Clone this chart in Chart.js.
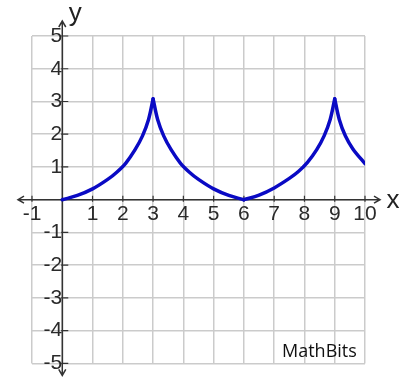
<!DOCTYPE html>
<html>
<head>
<script src="https://cdn.jsdelivr.net/npm/chart.js@4.4.0/dist/chart.umd.min.js"></script>
<style>
  body { margin: 0; background: #fff; }
  #wrap { width: 404px; height: 381px; }
</style>
</head>
<body>
<div id="wrap"><canvas id="graph" width="404" height="381"></canvas></div>
<script>
// curve, split at the cusps so each arc keeps its own slope
const arc1X = [0, 0.5, 1, 1.5, 1.8, 2.1, 2.4, 2.65, 2.85, 3];
const arc1Y = [0, 0.13, 0.33, 0.62, 0.84, 1.12, 1.52, 1.95, 2.45, 3.08];
const arc2X = [3, 3.15, 3.35, 3.6, 3.9, 4.2, 4.5, 5, 5.5, 6];
const arc2Y = [3.08, 2.45, 1.95, 1.52, 1.12, 0.84, 0.62, 0.33, 0.13, 0];
const arc3X = [6, 6.5, 7, 7.5, 7.8, 8.1, 8.4, 8.65, 8.85, 9];
const arc3Y = [0, 0.14, 0.36, 0.65, 0.86, 1.14, 1.52, 1.95, 2.45, 3.08];
const arc4X = [9, 9.15, 9.35, 9.6, 10];
const arc4Y = [3.08, 2.45, 1.95, 1.55, 1.1];

const xMin = -1, xMax = 10;
const yMin = -5, yMax = 5;

const curveColor = '#0a0ac4';
const tickFont = { family: "'Liberation Sans', Arial, sans-serif", size: 21 };

function pts(xs, ys) {
    return xs.map((v, i) => ({ x: v, y: ys[i] }));
}

function arcSet(xs, ys) {
    return {
        data: pts(xs, ys),
        borderColor: curveColor,
        borderWidth: 3.5,
        pointRadius: 0,
        tension: 0.35,
        borderCapStyle: 'round',
        borderJoinStyle: 'round'
    };
}

// axis lines with arrows, tick marks, and the loose text
const axesPlugin = {
    id: 'axes',
    beforeDatasetsDraw(chart) {
        const ctx = chart.ctx;
        const sx = chart.scales.x, sy = chart.scales.y;
        const x0 = sx.getPixelForValue(0), y0 = sy.getPixelForValue(0);
        const l = sx.left - 14, r = sx.right + 15, t = sy.top - 15, b = sy.bottom + 12;
        ctx.save();
        ctx.strokeStyle = '#333';
        ctx.lineWidth = 1.5;
        ctx.beginPath();
        ctx.moveTo(l, y0); ctx.lineTo(r, y0);
        ctx.moveTo(x0, t); ctx.lineTo(x0, b);
        // arrowheads
        ctx.moveTo(l + 6, y0 - 3.5); ctx.lineTo(l, y0); ctx.lineTo(l + 6, y0 + 3.5);
        ctx.moveTo(r - 6, y0 - 3.5); ctx.lineTo(r, y0); ctx.lineTo(r - 6, y0 + 3.5);
        ctx.moveTo(x0 - 3.5, t + 6); ctx.lineTo(x0, t); ctx.lineTo(x0 + 3.5, t + 6);
        ctx.moveTo(x0 - 3.5, b - 6); ctx.lineTo(x0, b); ctx.lineTo(x0 + 3.5, b - 6);
        ctx.stroke();
        ctx.lineWidth = 1.2;
        ctx.beginPath();
        for (let v = xMin; v <= xMax; v++) {
            if (v === 0) continue;
            const px = sx.getPixelForValue(v);
            ctx.moveTo(px, y0 - 4); ctx.lineTo(px, y0 + 2);
        }
        for (let v = yMin; v <= yMax; v++) {
            if (v === 0) continue;
            const py = sy.getPixelForValue(v);
            ctx.moveTo(x0 - 1, py); ctx.lineTo(x0 + 6, py);
        }
        ctx.stroke();
        ctx.restore();
    },
    afterDraw(chart) {
        const ctx = chart.ctx;
        const sx = chart.scales.x, sy = chart.scales.y;
        const x0 = sx.getPixelForValue(0), y0 = sy.getPixelForValue(0);
        ctx.save();
        ctx.fillStyle = '#222';
        ctx.font = "26px 'Liberation Sans', Arial, sans-serif";
        ctx.textAlign = 'center';
        ctx.textBaseline = 'alphabetic';
        ctx.fillText('x', sx.right + 28, y0 + 8);
        ctx.fillText('y', x0 + 13, sy.top - 15);
        ctx.fillStyle = '#111';
        ctx.font = "18px 'Open Sans', sans-serif";
        ctx.textAlign = 'left';
        ctx.fillText('MathBits', sx.right - 83, sy.bottom - 6);
        ctx.restore();
    }
};

new Chart(document.getElementById('graph'), {
    type: 'line',
    data: {
        datasets: [
            arcSet(arc1X, arc1Y),
            arcSet(arc2X, arc2Y),
            arcSet(arc3X, arc3Y),
            arcSet(arc4X, arc4Y)
        ]
    },
    options: {
        responsive: false,
        animation: false,
        layout: { padding: { left: 32, right: 39, top: 36, bottom: 13 } },
        plugins: { legend: { display: false }, tooltip: { enabled: false } },
        scales: {
            x: {
                type: 'linear',
                min: xMin,
                max: xMax,
                position: { y: 0 },
                border: { display: false },
                grid: { color: '#cbcbcb', lineWidth: 1.5, drawTicks: false },
                ticks: {
                    stepSize: 1,
                    autoSkip: false,
                    maxRotation: 0,
                    padding: 2,
                    color: '#2a2a2a',
                    font: tickFont,
                    callback: v => (v === 0 ? '' : v)
                }
            },
            y: {
                type: 'linear',
                min: yMin,
                max: yMax,
                position: { x: 0 },
                border: { display: false },
                grid: { color: '#cbcbcb', lineWidth: 1.5, drawTicks: false },
                ticks: {
                    stepSize: 1,
                    autoSkip: false,
                    padding: 5,
                    color: '#2a2a2a',
                    font: tickFont,
                    callback: v => (v === 0 ? '' : v)
                }
            }
        }
    },
    plugins: [axesPlugin]
});
</script>
</body>
</html>
